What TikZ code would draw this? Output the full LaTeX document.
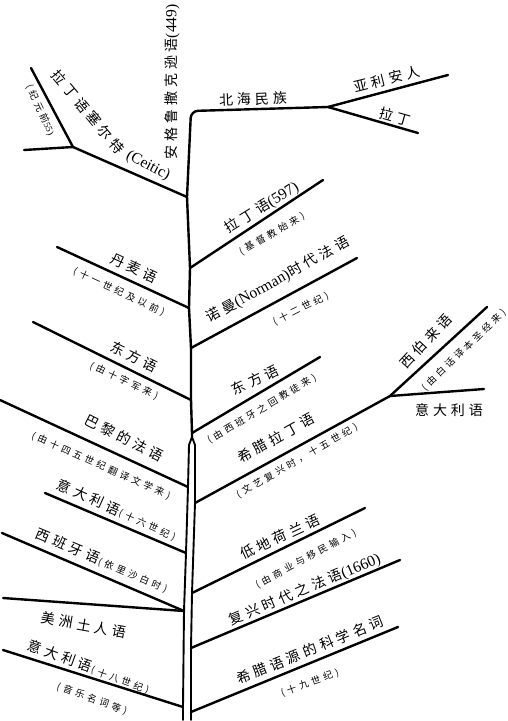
\documentclass[tikz,border=0pt]{standalone}
\usepackage{fontspec}
\setmainfont{Liberation Serif}
\newfontfamily\zhA[LetterSpace=28]{Noto Sans CJK SC}
\newfontfamily\zhB[LetterSpace=35]{Noto Sans CJK SC}
\newcommand{\lat}[1]{{\fontsize{15.5}{15.5}\selectfont #1}}
\begin{document}
\begin{tikzpicture}[x=1pt,y=-1pt,
  br/.style={line width=2.4pt, line cap=round, line join=round},
  tr/.style={line width=1.9pt, line cap=round, line join=round},
  big/.style={inner sep=0pt, font=\fontsize{14}{14}\selectfont},
  small/.style={inner sep=0pt, font=\fontsize{9.5}{10}\selectfont}]
\useasboundingbox (0,0) rectangle (508,721);
% trunk coordinates
\coordinate (tK) at (191,111);
\coordinate (tC) at (187,197);
\coordinate (tR1) at (190,268);
\coordinate (tD) at (189,308);
\coordinate (tR2) at (191,348);
\coordinate (tE) at (191,400);
\coordinate (tR3) at (192,433);
\coordinate (tSp) at (192,437);
\coordinate (lA) at (189,445);
\coordinate (tP) at (188,487);
\coordinate (tI) at (186,553);
\coordinate (tS) at (184,611);
\coordinate (tJ) at (183,707);
\coordinate (lEnd) at (183,720);
\coordinate (rA) at (195,445);
\coordinate (tR4) at (195,503);
\coordinate (tR5) at (192,593);
\coordinate (tR6) at (191,648);
\coordinate (tR7) at (191,712);
\coordinate (rEnd) at (191,720);
% branch ends
\coordinate (N1) at (328,107);
\coordinate (N2) at (448,75);
\coordinate (N3) at (418,133);
\coordinate (C1) at (73,147);
\coordinate (C2) at (31,68);
\coordinate (C3) at (24,150);
\coordinate (D1) at (57,247);
\coordinate (E1) at (33,322);
\coordinate (P1) at (0,400);
\coordinate (I1) at (45,493);
\coordinate (S1) at (2,533);
\coordinate (A1) at (3,598);
\coordinate (J1) at (3,650);
\coordinate (R11) at (323,180);
\coordinate (R21) at (357,258);
\coordinate (R31) at (320,357);
\coordinate (R41) at (390,396);
\coordinate (R42) at (487,307);
\coordinate (R43) at (484,389);
\coordinate (R51) at (365,508);
\coordinate (R61) at (400,560);
\coordinate (R71) at (398,627);
% trunk
\draw[br, rounded corners=7pt] (N1) -- (tK) -- (tC);
\draw[br] (tC) -- (tR1) -- (tD) -- (tR2) -- (tE) -- (tR3) -- (tSp);
\draw[tr] (tSp) -- (lA) -- (tP) -- (tI) -- (tS) -- (tJ) -- (lEnd);
\draw[tr] (tSp) -- (rA) -- (tR4) -- (tR5) -- (tR6) -- (tR7) -- (rEnd);
% branches
\draw[br] (N1) -- (N2);
\draw[br] (N1) -- (N3);
\draw[br] (tC) -- (C1) -- (C2);
\draw[br] (C1) -- (C3);
\draw[br] (tD) -- (D1);
\draw[br] (tE) -- (E1);
\draw[br] (tP) -- (P1);
\draw[br] (tI) -- (I1);
\draw[br] (tS) -- (S1);
\draw[br] (tS) -- (A1);
\draw[br] (tJ) -- (J1);
\draw[br] (tR1) -- (R11);
\draw[br] (tR2) -- (R21);
\draw[br] (tR3) -- (R31);
\draw[br] (tR4) -- (R41) -- (R42);
\draw[br] (R41) -- (R43);
\draw[br] (tR5) -- (R51);
\draw[br] (tR6) -- (R61);
\draw[br] (tR7) -- (R71);
% labels
\node[big, rotate=90] (ags) at (172,82) {{\zhA 安格鲁撒克逊语}\lat{(449)}};
\node[big, rotate=2] (bh) at (253,99) {\zhA 北海民族};
\node[big, rotate=14] (yl) at (387,79) {\zhA 亚利安人};
\node[big, rotate=-16] (ld) at (395,117) {\zhA 拉丁};
\node[big, rotate=-50] (lds) at (88,112) {\zhA 拉丁语塞尔特};
\node[big, rotate=-28] (cei) at (148,166) {\lat{(Ceitic)}};
\node[small, rotate=-65] (jy) at (40,110) {{\zhB (纪元前}55)};
\node[big, rotate=-25] (dm) at (134,268) {\zhA 丹麦语};
\node[small, rotate=-25] (dms) at (119,292) {\zhB (十一世纪及以前)};
\node[big, rotate=-26] (dfl) at (134,357) {\zhA 东方语};
\node[small, rotate=-25] (dfls) at (124,381) {\zhB (由十字军来)};
\node[big, rotate=-27] (bl) at (124,438) {\zhA 巴黎的法语};
\node[small, rotate=-24] (bls) at (101,466) {\zhB (由十四五世纪翻译文学来)};
\node[big, rotate=-24] (yd16) at (89,497) {\zhA 意大利语};
\node[small, rotate=-24, anchor=base west] (yd16s) at (yd16.base east) {\zhB (十六世纪)};
\node[big, rotate=-23] (xby) at (68,546) {\zhA 西班牙语};
\node[small, rotate=-23, anchor=base west] (xbys) at (xby.base east) {\zhB (依里沙白时)};
\node[big, rotate=-10] (mz) at (84,625) {\zhA 美洲土人语};
\node[big, rotate=-20] (yd18) at (60,656) {\zhA 意大利语};
\node[small, rotate=-20, anchor=base west] (yd18b) at (yd18.base east) {\zhB (十八世纪)};
\node[small, rotate=-20] (yd18s) at (92,699) {\zhB (音乐名词等)};
\node[big, rotate=32] (ld597) at (262,208) {{\zhA 拉丁语}\lat{(597)}};
\node[small, rotate=30] (jdj) at (272,234) {\zhB (基督教始来)};
\node[big, rotate=29] (nm) at (278,280) {{\zhA 诺曼}\lat{(Norman)}{\zhA 时代法语}};
\node[small, rotate=27] (nms) at (301,309) {\zhB (十二世纪)};
\node[big, rotate=26] (dfr) at (255,380) {\zhA 东方语};
\node[small, rotate=31] (dfrs) at (262,409) {\zhB (由西班牙之回教徒来)};
\node[big, rotate=29] (xl) at (276,438) {\zhA 希腊拉丁语};
\node[small, rotate=30] (xls) at (297,461) {\zhB (文艺复兴时，十五世纪)};
\node[big, rotate=47] (xbl) at (426,341) {\zhA 西伯来语};
\node[small, rotate=44] (xbls) at (464,350) {\zhB (由白话译本圣经来)};
\node[big] (ydr) at (449,410) {\zhA 意大利语};
\node[big, rotate=25] (dd) at (280,537) {\zhA 低地荷兰语};
\node[small, rotate=28] (dds) at (306,559) {\zhB (由商业与移民输入)};
\node[big, rotate=23] (fx) at (305,590) {{\zhA 复兴时代之法语}\lat{(1660)}};
\node[big, rotate=22] (xk) at (310,650) {\zhA 希腊语源的科学名词};
\node[small, rotate=20] (xks) at (310,683) {\zhB (十九世纪)};
\end{tikzpicture}
\end{document}
